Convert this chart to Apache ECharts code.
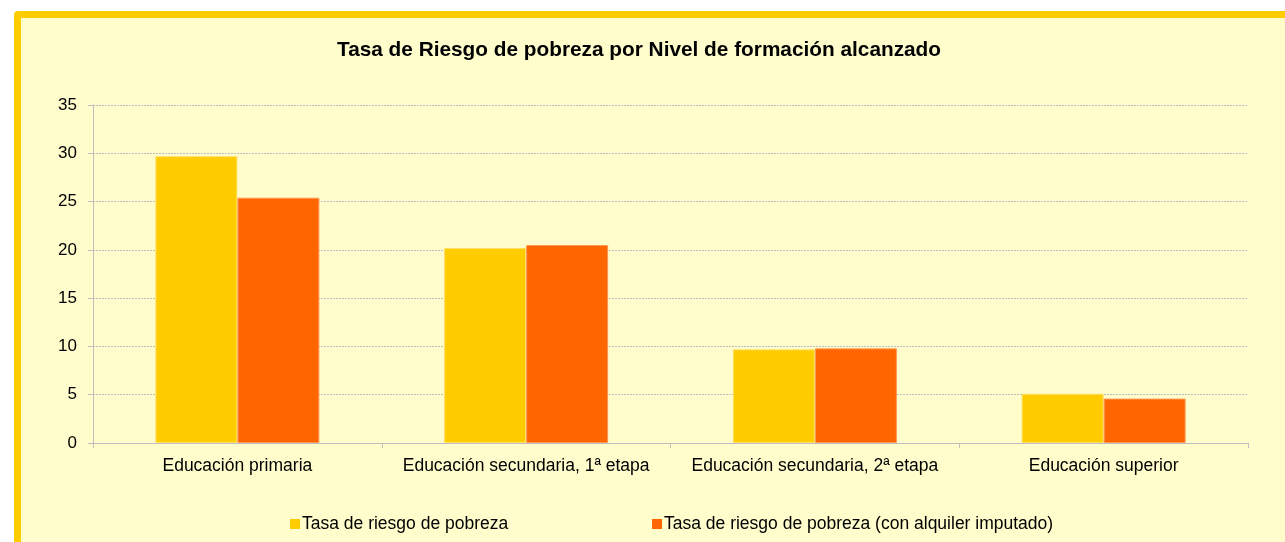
<!DOCTYPE html>
<html>
<head>
<meta charset="utf-8">
<script src="https://cdn.jsdelivr.net/npm/echarts@6/dist/echarts.min.js"></script>
<style>
  html, body { margin: 0; padding: 0; background: #fff; overflow: hidden; }
  #frame {
    position: absolute; left: 14px; top: 11px; width: 1290px; height: 560px;
    background: #FFFDCC; border: 7px solid #FFCC00; border-radius: 4px; box-sizing: border-box;
  }
  #chart { position: absolute; left: 0; top: 0; width: 1285px; height: 542px; }
</style>
</head>
<body>
<div id="frame"></div>
<div id="chart"></div>
<script>
// categorías y valores
const categories = ['Educación primaria', 'Educación secundaria, 1ª etapa', 'Educación secundaria, 2ª etapa', 'Educación superior']
const seriesNames = ['Tasa de riesgo de pobreza', 'Tasa de riesgo de pobreza (con alquiler imputado)']
const tasaRiesgo = [29.7, 20.2, 9.7, 5.1]
const tasaAlquiler = [25.4, 20.5, 9.8, 4.6]
const yTicks = [0, 5, 10, 15, 20, 25, 30, 35]

const chart = echarts.init(document.getElementById('chart'), null, { renderer: 'canvas' })
const txt = { fontFamily: 'Liberation Sans, Arial, sans-serif', color: '#000' }
const legendTxt = { ...txt, fontSize: 17.5, padding: [0, 0, 0, -3] }

chart.setOption({
  backgroundColor: 'transparent',
  animation: false,
  title: {
    text: 'Tasa de Riesgo de pobreza por Nivel de formación alcanzado',
    left: 634, top: 35, textAlign: 'center',
    textStyle: { ...txt, fontSize: 20.8, fontWeight: 'bold' }
  },
  legend: [
    {
      data: [seriesNames[0]],
      left: 285, top: 510,
      itemWidth: 10, itemHeight: 10, icon: 'rect',
      itemStyle: { borderWidth: 0 },
      textStyle: legendTxt
    },
    {
      data: [seriesNames[1]],
      left: 647, top: 510,
      itemWidth: 10, itemHeight: 10, icon: 'rect',
      itemStyle: { borderWidth: 0 },
      textStyle: legendTxt
    }
  ],
  grid: { left: 93, right: 37, top: 105, bottom: 99 },
  xAxis: {
    type: 'category',
    data: categories,
    axisLine: { lineStyle: { color: '#BFBFBF' } },
    axisTick: { show: true, interval: 0, length: 5, lineStyle: { color: '#BFBFBF' } },
    axisLabel: { ...txt, fontSize: 17.5, margin: 14, interval: 0 }
  },
  yAxis: {
    type: 'value',
    min: yTicks[0], max: yTicks[yTicks.length - 1], interval: 5,
    axisLine: { show: true, lineStyle: { color: '#BFBFBF' } },
    axisTick: { show: true, length: 5, lineStyle: { color: '#BFBFBF' } },
    axisLabel: { ...txt, fontSize: 17, margin: 16 },
    splitLine: { lineStyle: { color: '#BDBDBD', type: [2, 1] } }
  },
  series: [
    {
      name: seriesNames[0], type: 'bar', data: tasaRiesgo,
      barWidth: '28.4%', barGap: '0%',
      itemStyle: { color: '#FFCC00', borderColor: '#FFE066', borderWidth: 1 }
    },
    {
      name: seriesNames[1], type: 'bar', data: tasaAlquiler,
      barWidth: '28.4%',
      itemStyle: { color: '#FF6600', borderColor: '#FF9955', borderWidth: 1 }
    }
  ]
})
</script>
</body>
</html>
